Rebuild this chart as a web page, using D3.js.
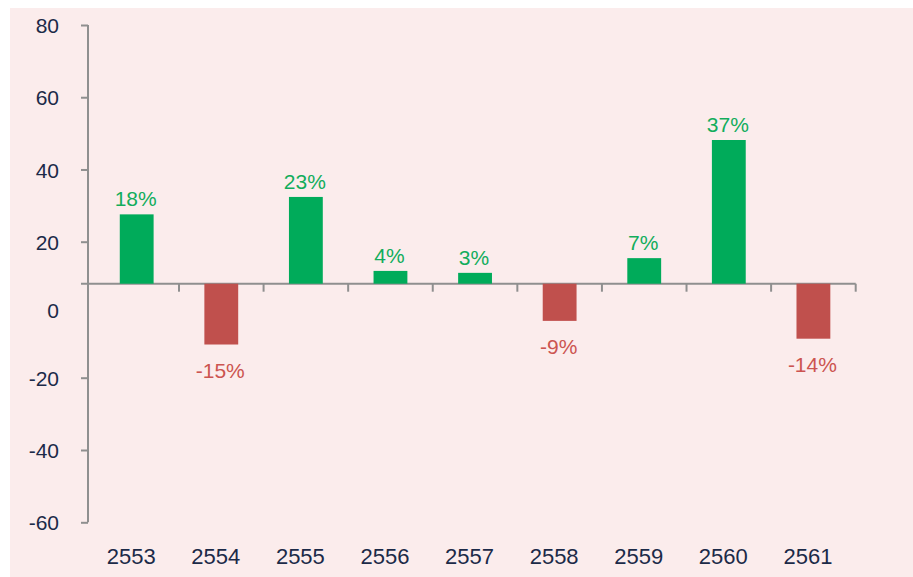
<!DOCTYPE html>
<html>
<head>
<meta charset="utf-8">
<script src="https://cdn.jsdelivr.net/npm/d3@7"></script>
<style>
    body { margin: 0; background: #ffffff; }
    .axis text { font-family: "Liberation Sans", Arial, sans-serif; fill: #1c2a48; }
    .axis path, .axis line { stroke: #8f8f8f; stroke-width: 2px; }
</style>
</head>
<body>
<div id="chart-area"></div>
<script>

// Years (Thai calendar)
let years = ["2553", "2554", "2555", "2556", "2557", "2558", "2559", "2560", "2561"];

// Bar values (%)
let barValues = [17.9, -15.7, 22.4, 3.3, 2.8, -9.6, 6.6, 37.1, -14.2];

// Labels printed on the bars
let barLabels = ["18%", "-15%", "23%", "4%", "3%", "-9%", "7%", "37%", "-14%"];

// Y axis tick labels
let yTicks = [80, 60, 40, 20, 0, -20, -40, -60];


class GrowthVis {

    constructor(_parentElement) {
        this.parentElement = _parentElement;
        this.initVis();
    }

    initVis() {
        let vis = this;

        vis.width = 913;
        vis.height = 577;

        vis.svg = d3.select("#" + vis.parentElement).append("svg")
            .attr("width", vis.width)
            .attr("height", vis.height);

        // pink panel
        vis.svg.append("rect")
            .attr("x", 10)
            .attr("y", 8)
            .attr("width", vis.width - 10)
            .attr("height", vis.height - 8)
            .attr("fill", "#fbecec");

        // axis scale (tick labels) and bar scale
        vis.yAxisScale = d3.scaleLinear()
            .domain([-60, -20, 20, 80])
            .range([522.3, 377.7, 241.7, 25]);

        vis.y = d3.scaleLinear()
            .domain([0, 37.1])
            .range([283.7, 140]);

        vis.x = d3.scaleBand()
            .domain(years)
            .range([94.4, 855.7])
            .padding(0);

        vis.axisX = 88;

        vis.wrangleData();
    }

    wrangleData() {
        let vis = this;

        vis.displayData = years.map(function (d, i) {
            return { year: d, value: barValues[i], label: barLabels[i] };
        });

        vis.updateVis();
    }

    updateVis() {
        let vis = this;
        let y0 = vis.y(0);

        // Y axis (plain hyphen for negatives, like the original)
        let yAxis = d3.axisLeft(vis.yAxisScale)
            .tickValues(yTicks)
            .tickFormat(function (d) { return String(d); })
            .tickSize(7)
            .tickPadding(22)
            .tickSizeOuter(0);

        let gy = vis.svg.append("g")
            .attr("class", "y-axis axis")
            .attr("transform", "translate(" + vis.axisX + ",0)")
            .call(yAxis);

        gy.select(".domain").remove();
        gy.append("line")
            .attr("x1", 0).attr("x2", 0)
            .attr("y1", vis.yAxisScale(80))
            .attr("y2", vis.yAxisScale(-60));

        gy.selectAll(".tick")
            .filter(function (d) { return d === 0; })
            .select("line").remove();

        gy.selectAll("text")
            .attr("font-size", 21)
            .attr("dy", "0.36em");

        // X axis line at bar baseline
        let gx = vis.svg.append("g")
            .attr("class", "x-axis axis")
            .attr("transform", "translate(0," + y0 + ")");

        gx.append("line")
            .attr("x1", vis.axisX - 7)
            .attr("x2", vis.x.range()[1])
            .attr("y1", 0).attr("y2", 0);

        gx.selectAll(".cat-tick")
            .data(years)
            .enter().append("line")
            .attr("class", "cat-tick")
            .attr("x1", function (d) { return vis.x(d) + vis.x.bandwidth(); })
            .attr("x2", function (d) { return vis.x(d) + vis.x.bandwidth(); })
            .attr("y1", 0)
            .attr("y2", 8);

        // Year labels along the bottom
        vis.svg.append("g")
            .attr("class", "axis")
            .selectAll("text")
            .data(years)
            .enter().append("text")
            .attr("x", function (d) { return vis.x(d) + vis.x.bandwidth() / 2 - 5.5; })
            .attr("y", 563.7)
            .attr("text-anchor", "middle")
            .attr("font-size", 22)
            .text(function (d) { return d; });

        // Bars
        let barW = vis.x.bandwidth() * 0.4;

        vis.svg.selectAll(".bar")
            .data(vis.displayData)
            .enter().append("rect")
            .attr("class", "bar")
            .attr("x", function (d) { return vis.x(d.year) + (vis.x.bandwidth() - barW) / 2; })
            .attr("y", function (d) { return Math.min(vis.y(d.value), y0); })
            .attr("width", barW)
            .attr("height", function (d) { return Math.abs(vis.y(d.value) - y0); })
            .attr("fill", function (d) { return d.value >= 0 ? "#00ab5a" : "#c0504d"; });

        // Value labels
        vis.svg.selectAll(".bar-label")
            .data(vis.displayData)
            .enter().append("text")
            .attr("class", "bar-label")
            .attr("x", function (d) { return vis.x(d.year) + vis.x.bandwidth() / 2 - 1; })
            .attr("y", function (d) {
                return d.value >= 0 ? vis.y(d.value) - 8 : vis.y(d.value) + 33;
            })
            .attr("text-anchor", "middle")
            .attr("font-family", "'Liberation Sans', Arial, sans-serif")
            .attr("font-size", 21)
            .attr("fill", function (d) { return d.value >= 0 ? "#12ad5c" : "#cc5450"; })
            .text(function (d) { return d.label; });
    }
}

let growthVis = new GrowthVis("chart-area");

</script>
</body>
</html>
